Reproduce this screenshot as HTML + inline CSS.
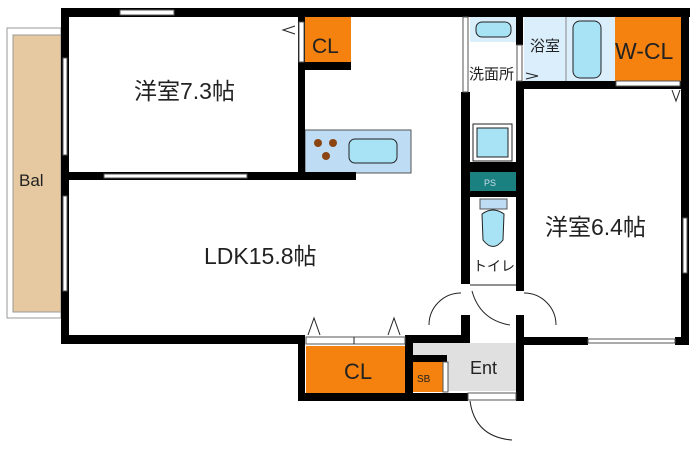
<!DOCTYPE html>
<html><head><meta charset="utf-8"><style>
html,body{margin:0;padding:0;background:#fff;width:700px;height:449px;overflow:hidden}
svg{display:block}
text{font-family:"Liberation Sans","Noto Sans CJK JP",sans-serif;fill:#222}
</style></head><body>
<svg width="700" height="449" viewBox="0 0 700 449">
<rect x="7" y="28" width="54" height="290" fill="#fff" stroke="#999" stroke-width="1"/>
<rect x="13" y="35" width="48" height="277" fill="#e6c9a0" stroke="#999" stroke-width="1"/>
<text x="19" y="186" font-size="17">Bal</text>
<rect x="305" y="17" width="46" height="46" fill="#f5820f"/>
<rect x="305" y="130" width="106" height="43" fill="#bfdcf5" stroke="#555" stroke-width="1"/>
<circle cx="318" cy="143" r="4" fill="#8b4513"/><circle cx="333" cy="143" r="4" fill="#8b4513"/><circle cx="326" cy="156" r="4" fill="#8b4513"/>
<rect x="349" y="139" width="48" height="24" rx="6" fill="#a8e2f5" stroke="#222"/>
<rect x="470" y="17" width="46" height="25" fill="#dbeefc"/>
<rect x="476" y="22" width="35" height="15" rx="6" fill="#a8e2f5" stroke="#222"/>
<rect x="524" y="17" width="92" height="64" fill="#dbeefc"/>
<line x1="566" y1="17" x2="566" y2="81" stroke="#888"/>
<rect x="573" y="21" width="28" height="57" rx="7" fill="#a8e2f5" stroke="#222"/>
<text x="530" y="51" font-size="15">浴室</text>
<rect x="615" y="17" width="66" height="64" fill="#f5820f"/>
<text x="615" y="59" font-size="23">W-CL</text>
<rect x="473" y="124" width="39" height="37" fill="#fff" stroke="#222"/>
<rect x="477" y="128" width="31" height="29" fill="#a8e2f5" stroke="#222"/>
<rect x="470" y="172" width="46" height="19" fill="#1a8080"/>
<text x="484" y="186" font-size="9" style="fill:#cde">PS</text>
<rect x="480" y="199" width="27" height="10" fill="#bfdcf5" stroke="#555"/>
<path d="M482 214 Q493 206 504 214 L503 240 Q493 253 483 240 Z" fill="#a8e2f5" stroke="#222"/>
<text x="473" y="271" font-size="14">トイレ</text>
<rect x="306" y="346" width="100" height="47" fill="#f5820f"/>
<text x="344" y="379" font-size="22">CL</text>
<rect x="413" y="343" width="103" height="48" fill="#e0e0e0"/>
<rect x="413" y="362" width="32" height="30" fill="#f5820f"/>
<rect x="409" y="355" width="38" height="7" fill="#000"/>
<text x="417" y="382" font-size="10">SB</text>
<text x="470" y="374" font-size="18">Ent</text>
<g fill="#000">
<rect x="61" y="8" width="629" height="9"/>
<rect x="61" y="8" width="8" height="336"/>
<rect x="681" y="8" width="8" height="337"/>
<rect x="61" y="172" width="295" height="8"/>
<rect x="298" y="17" width="7" height="163"/>
<rect x="298" y="62" width="53" height="8"/>
<rect x="461" y="92" width="9" height="192"/>
<rect x="516" y="17" width="7" height="28"/>
<rect x="516" y="81" width="173" height="8"/>
<rect x="516" y="81" width="8" height="210"/>
<rect x="470" y="162" width="46" height="10"/>
<rect x="470" y="191" width="46" height="6"/>
<rect x="61" y="335" width="244" height="9"/>
<rect x="298" y="335" width="7" height="66"/>
<rect x="298" y="393" width="170" height="8"/>
<rect x="405" y="335" width="8" height="62"/>
<rect x="405" y="335" width="65" height="8"/>
<rect x="461" y="315" width="9" height="28"/>
<rect x="516" y="315" width="8" height="86"/>
<rect x="516" y="337" width="72" height="8"/>
<rect x="675" y="337" width="14" height="8"/>
</g>
<g fill="#fff" stroke="#555" stroke-width="1">
<rect x="120" y="10" width="54" height="5"/>
<rect x="104" y="174" width="143" height="4"/>
<rect x="63" y="58" width="4" height="97"/>
<rect x="63" y="196" width="4" height="95"/>
<rect x="306" y="337" width="99" height="7"/>
<rect x="588" y="339" width="87" height="4"/>
<rect x="683" y="218" width="4" height="55"/>
<rect x="463" y="17" width="5" height="75"/>
<rect x="299" y="22" width="5" height="40"/>
<rect x="616" y="81" width="64" height="5"/>
<rect x="517" y="45" width="5" height="36"/>
<rect x="443" y="362" width="5" height="30"/>
<rect x="468" y="393" width="48" height="7"/>
</g>
<g fill="none" stroke="#222" stroke-width="1">
<line x1="354" y1="337" x2="354" y2="344"/>
<path d="M295 26 L283 30 L295 34"/>
<path d="M526 73 L538 76 L526 79"/>
<path d="M672 90 L676 101 L680 90"/>
<path d="M308 335 L314 318 L320 335"/>
<path d="M388 335 L394 318 L400 335"/>
<path d="M461 293 A32 32 0 0 0 429 325"/>
<path d="M524 293 A32 32 0 0 1 556 325"/>
<path d="M472 291 Q480 320 510 325"/>
<path d="M470 401 Q475 437 512 440"/>
<line x1="470" y1="285" x2="516" y2="285"/>
</g>
<text x="134" y="99" font-size="23">洋室7.3帖</text>
<text x="204" y="264" font-size="23">LDK15.8帖</text>
<text x="545" y="235" font-size="23">洋室6.4帖</text>
<text x="469" y="79" font-size="15">洗面所</text>
<text x="312" y="53" font-size="21">CL</text>
</svg>
</body></html>
